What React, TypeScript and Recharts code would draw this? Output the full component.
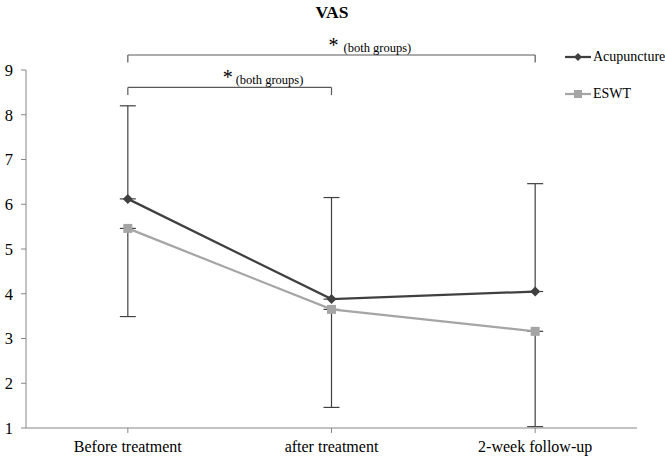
import React from 'react';
import { LineChart, Line, XAxis, YAxis, ErrorBar, ReferenceLine } from 'recharts';

const categories = ['Before treatment', 'after treatment', '2-week follow-up'];
const acupuncture = [6.12, 3.88, 4.05];
const acupunctureUpper = [8.2, 6.15, 6.46];
const eswt = [5.46, 3.65, 3.16];
const eswtLower = [3.49, 1.46, 1.03];
const yTicks = [1, 2, 3, 4, 5, 6, 7, 8, 9];
const brackets = [
  { from: 'Before treatment', to: '2-week follow-up', level: 9.335, drop: 0.17, label: '(both groups)' },
  { from: 'Before treatment', to: 'after treatment', level: 8.61, drop: 0.17, label: '(both groups)' },
];

const data = categories.map((c, i) => ({
  name: c,
  acu: acupuncture[i],
  acuErr: [0, +(acupunctureUpper[i] - acupuncture[i]).toFixed(2)],
  eswt: eswt[i],
  eswtErr: [+(eswt[i] - eswtLower[i]).toFixed(2), 0],
}));

const FONT = '"Liberation Serif", "Times New Roman", serif';
const DARK = '#404040';
const LIGHT = '#A5A5A5';
const AXIS = '#868686';

const Diamond = (p: any) => {
  const { cx, cy } = p;
  if (cx == null || cy == null) return null;
  return <path d={`M${cx},${cy - 5}L${cx + 5},${cy}L${cx},${cy + 5}L${cx - 5},${cy}Z`} fill={DARK} />;
};
const Square = (p: any) => {
  const { cx, cy } = p;
  if (cx == null || cy == null) return null;
  return <rect x={cx - 4.5} y={cy - 4.5} width={9} height={9} fill={LIGHT} />;
};

const labelOffsets = [
  { star: 2, text: 12 },
  { star: -2, text: 6 },
];

const makeLabel = (idx: number, text: string) => (props: any) => {
  const vb = props.viewBox || {};
  const cx = vb.x + (vb.width || 0) / 2;
  const y = vb.y;
  const o = labelOffsets[idx];
  return (
    <g>
      <text x={cx + o.star} y={y - 3} textAnchor="middle" fontFamily={FONT} fontSize={20} fill="#000">*</text>
      <text x={cx + o.text} y={y - 3.5} textAnchor="start" fontFamily={FONT} fontSize={12.5} fill="#000">{text}</text>
    </g>
  );
};

const LegendBox = () => (
  <div style={{ position: 'absolute', left: 563, top: 48, fontFamily: FONT, fontSize: 14, color: '#000' }}>
    <div style={{ display: 'flex', alignItems: 'center', height: 18 }}>
      <svg width={30} height={12}>
        <line x1={2} y1={6} x2={28} y2={6} stroke={DARK} strokeWidth={2.25} />
        <path d="M15,2L19,6L15,10L11,6Z" fill={DARK} />
      </svg>
      <span>Acupuncture</span>
    </div>
    <div style={{ display: 'flex', alignItems: 'center', height: 18, marginTop: 19 }}>
      <svg width={30} height={12}>
        <line x1={2} y1={6} x2={28} y2={6} stroke={LIGHT} strokeWidth={2.25} />
        <rect x={11} y={2} width={8} height={8} fill={LIGHT} />
      </svg>
      <span>ESWT</span>
    </div>
  </div>
);

export default function App() {
  return (
    <div style={{ position: 'absolute', left: 0, top: 0, width: 665, height: 459, background: '#fff' }}>
      <div style={{ position: 'absolute', left: 0, top: 2, width: 664, textAlign: 'center', fontFamily: FONT, fontWeight: 'bold', fontSize: 17.5 }}>VAS</div>
      <LegendBox />
      <LineChart width={665} height={459} data={data} margin={{ top: 70, right: 28, bottom: 0, left: 0 }}>
        <XAxis
          dataKey="name"
          scale="band"
          height={31}
          stroke={AXIS}
          tickSize={5}
          tickMargin={8}
          tick={{ fill: '#000', fontFamily: FONT, fontSize: 16 }}
        />
        <YAxis
          domain={[1, 9]}
          ticks={yTicks}
          width={26}
          stroke={AXIS}
          tickSize={5}
          tickMargin={8}
          interval={0}
          tick={{ fill: '#000', fontFamily: FONT, fontSize: 16.5 }}
        />
        {brackets.map((b, i) => (
          <ReferenceLine
            key={'h' + i}
            segment={[{ x: b.from, y: b.level }, { x: b.to, y: b.level }]}
            stroke="#595959"
            strokeWidth={1.2}
            ifOverflow="visible"
            label={makeLabel(i, b.label)}
          />
        ))}
        {brackets.map((b, i) => (
          <ReferenceLine
            key={'l' + i}
            segment={[{ x: b.from, y: b.level }, { x: b.from, y: b.level - b.drop }]}
            stroke="#595959"
            strokeWidth={1.2}
            ifOverflow="visible"
          />
        ))}
        {brackets.map((b, i) => (
          <ReferenceLine
            key={'r' + i}
            segment={[{ x: b.to, y: b.level }, { x: b.to, y: b.level - b.drop }]}
            stroke="#595959"
            strokeWidth={1.2}
            ifOverflow="visible"
          />
        ))}
        <Line
          dataKey="eswt"
          stroke={LIGHT}
          strokeWidth={2.25}
          dot={<Square />}
          activeDot={false}
          isAnimationActive={false}
        >
          <ErrorBar dataKey="eswtErr" direction="y" width={8} stroke="#404040" strokeWidth={1.2} />
        </Line>
        <Line
          dataKey="acu"
          stroke={DARK}
          strokeWidth={2.25}
          dot={<Diamond />}
          activeDot={false}
          isAnimationActive={false}
        >
          <ErrorBar dataKey="acuErr" direction="y" width={8} stroke="#404040" strokeWidth={1.2} />
        </Line>
      </LineChart>
    </div>
  );
}
